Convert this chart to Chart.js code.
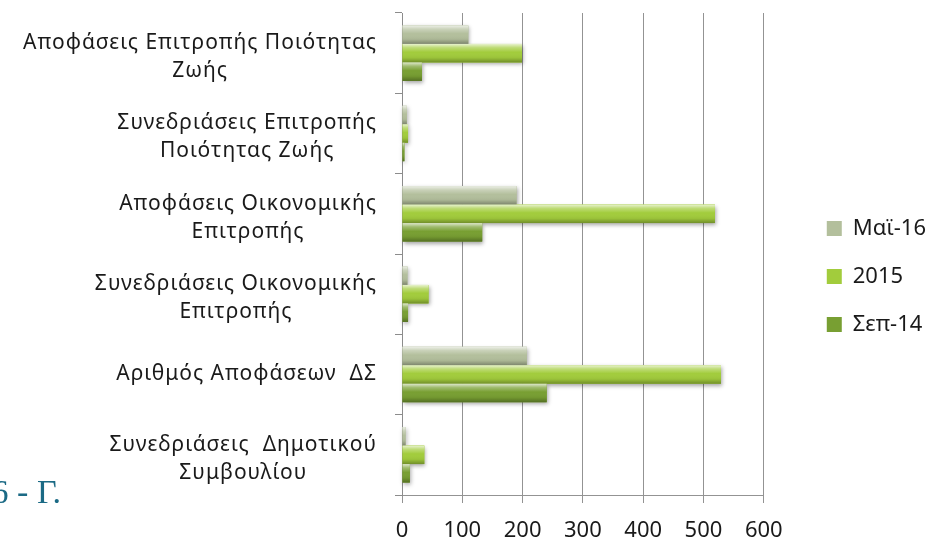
<!DOCTYPE html>
<html>
<head>
<meta charset="utf-8">
<script src="https://cdn.jsdelivr.net/npm/chart.js@4"></script>
<style>
  html, body { margin: 0; padding: 0; background: #fff; }
  #wrap { position: relative; width: 930px; height: 540px; overflow: hidden; }
  #side {
    position: absolute; right: 869px; top: 475px;
    font: 34px/34px "Liberation Serif", serif; color: #1b6a85; white-space: nowrap;
  }
</style>
</head>
<body>
<div id="wrap">
  <canvas id="chart" width="930" height="540"></canvas>
  <div id="side">6 - Γ.</div>
</div>
<script>
var categories = [
  ["Αποφάσεις Επιτροπής Ποιότητας", "Ζωής"],
  ["Συνεδριάσεις Επιτροπής", "Ποιότητας Ζωής"],
  ["Αποφάσεις Οικονομικής", "Επιτροπής"],
  ["Συνεδριάσεις Οικονομικής", "Επιτροπής"],
  ["Αριθμός Αποφάσεων  ΔΣ"],
  ["Συνεδριάσεις  Δημοτικού", "Συμβουλίου"]
];

var seriesNames = ["Μαϊ-16", "2015", "Σεπ-14"];
var may16 = [110, 8, 190, 9, 207, 6];
var y2015 = [199, 10, 519, 44, 529, 37];
var sep14 = [33, 4, 133, 10, 240, 13];

var xMin = 0;
var xMax = 600;
var xStep = 100;

var labelFont = "21px 'Noto Sans'";

// category labels: right aligned block, lines centred inside it (Excel style)
var catLabels = {
  id: "catLabels",
  afterDraw: function (chart) {
    var ctx = chart.ctx;
    var yScale = chart.scales.y;
    var right = chart.chartArea.left - 25;
    ctx.save();
    ctx.font = labelFont;
    ctx.letterSpacing = "1px";
    ctx.fillStyle = "#1a1a1a";
    ctx.textAlign = "center";
    ctx.textBaseline = "middle";
    categories.forEach(function (lines, i) {
      var w = 0;
      lines.forEach(function (l) {
        w = Math.max(w, ctx.measureText(l).width);
      });
      var cx = right - w / 2;
      var y = yScale.getPixelForValue(i) + (lines.length > 1 ? 4 : 0);
      var top = y - ((lines.length - 1) * 28) / 2;
      lines.forEach(function (l, j) {
        ctx.fillText(l, cx, top + j * 28);
      });
    });
    ctx.restore();
  }
};

function barRect(bar) {
  var p = bar.getProps(["x", "y", "base", "height"], true);
  return { x: p.base, y: p.y - p.height / 2, w: p.x - p.base, h: p.height };
}

// soft shadow under the bars and a bevel shine on top of them
var bevel = {
  id: "bevel",
  beforeDatasetsDraw: function (chart) {
    var ctx = chart.ctx;
    ctx.save();
    ctx.shadowColor = "rgba(0,0,0,0.35)";
    ctx.shadowBlur = 4;
    ctx.shadowOffsetX = 1;
    ctx.shadowOffsetY = 2;
    chart.data.datasets.forEach(function (ds, di) {
      chart.getDatasetMeta(di).data.forEach(function (bar) {
        var r = barRect(bar);
        ctx.fillStyle = ds.backgroundColor;
        ctx.fillRect(r.x, r.y, r.w, r.h);
      });
    });
    ctx.restore();
  },
  afterDatasetsDraw: function (chart) {
    var ctx = chart.ctx;
    ctx.save();
    chart.data.datasets.forEach(function (ds, di) {
      chart.getDatasetMeta(di).data.forEach(function (bar) {
        var r = barRect(bar);
        var g = ctx.createLinearGradient(0, r.y, 0, r.y + r.h);
        g.addColorStop(0, "rgba(255,255,255,0.75)");
        g.addColorStop(0.2, "rgba(255,255,255,0.3)");
        g.addColorStop(0.45, "rgba(255,255,255,0)");
        g.addColorStop(0.75, "rgba(0,0,0,0.05)");
        g.addColorStop(1, "rgba(0,0,0,0.3)");
        ctx.fillStyle = g;
        ctx.fillRect(r.x, r.y, r.w, r.h);
      });
    });
    ctx.restore();
  }
};

var chart = document.getElementById("chart");

var config = {
  type: "bar",
  data: {
    labels: categories,
    datasets: [
      {
        label: seriesNames[0],
        data: may16,
        backgroundColor: "#b3bf9c",
        borderWidth: 0,
      },
      {
        label: seriesNames[1],
        data: y2015,
        backgroundColor: "#a2cc3c",
        borderWidth: 0,
      },
      {
        label: seriesNames[2],
        data: sep14,
        backgroundColor: "#789f32",
        borderWidth: 0,
      },
    ],
  },
  options: {
    indexAxis: "y",
    responsive: false,
    animation: false,
    datasets: {
      bar: { categoryPercentage: 0.69, barPercentage: 1 },
    },
    layout: { padding: { top: 13, bottom: 0, left: 0, right: -6 } },
    scales: {
      x: {
        min: xMin,
        max: xMax,
        ticks: {
          stepSize: xStep,
          color: "#1a1a1a",
          font: { family: "Noto Sans", size: 22 },
          padding: 15,
        },
        grid: { color: "#939393", tickLength: 8 },
        border: { color: "#939393" },
        afterFit: function (scale) {
          scale.height = 45;
        },
      },
      y: {
        type: "category",
        ticks: { display: false },
        grid: { drawOnChartArea: false, tickLength: 7, color: "#8c8c8c", offset: true },
        border: { color: "#8c8c8c" },
        afterFit: function (scale) {
          scale.width = 402;
        },
      },
      spacer: {
        type: "linear",
        position: "right",
        grid: { display: false },
        border: { display: false },
        ticks: { display: false },
        afterFit: function (scale) {
          scale.width = 37;
        },
      },
    },
    plugins: {
      legend: {
        position: "right",
        labels: {
          color: "#1a1a1a",
          font: { family: "Noto Sans", size: 22 },
          boxWidth: 15,
          boxHeight: 15,
          padding: 26,
        },
      },
      tooltip: { enabled: false },
    },
  },
  plugins: [catLabels, bevel],
};

new Chart(chart, config);
</script>
</body>
</html>
